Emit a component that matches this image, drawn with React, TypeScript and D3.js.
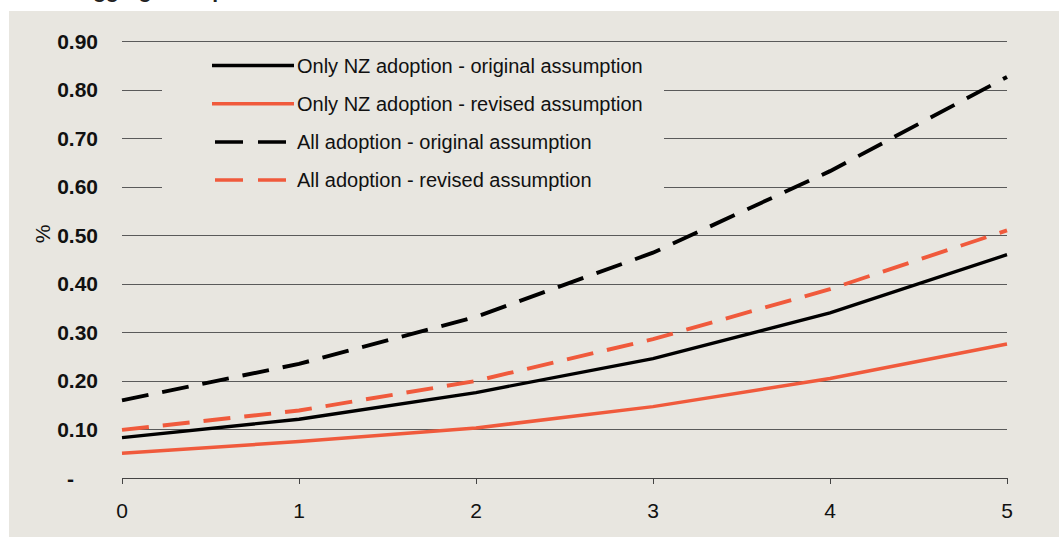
import React from "react";
import * as d3 from "d3";

const years = [0, 1, 2, 3, 4, 5];
const nzOriginal = [0.083, 0.121, 0.176, 0.246, 0.34, 0.46];
const nzRevised = [0.051, 0.075, 0.103, 0.147, 0.205, 0.276];
const allOriginal = [0.16, 0.235, 0.332, 0.464, 0.632, 0.826];
const allRevised = [0.099, 0.139, 0.2, 0.286, 0.389, 0.51];
const yTicks = [0, 0.1, 0.2, 0.3, 0.4, 0.5, 0.6, 0.7, 0.8, 0.9];

const seriesNames = [
  "Only NZ adoption - original assumption",
  "Only NZ adoption - revised assumption",
  "All adoption - original assumption",
  "All adoption - revised assumption",
];

const BG = "#e8e6e0";
const ORANGE = "#f05a3c";
const FONT = "Liberation Sans, Arial, sans-serif";

export default function App() {
  const width = 1059;
  const height = 537;

  const x = d3.scaleLinear().domain([0, 5]).range([122, 1007]);
  const y = d3.scaleLinear().domain([0, 0.9]).range([478, 41]);

  const line = d3
    .line<number>()
    .x((d, i) => x(years[i]))
    .y(d => y(d));

  const series = [
    { name: seriesNames[0], values: nzOriginal, color: "#000", dash: "", w: 3.3 },
    { name: seriesNames[1], values: nzRevised, color: ORANGE, dash: "", w: 3.5 },
    { name: seriesNames[2], values: allOriginal, color: "#000", dash: "27,14", w: 3.9 },
    { name: seriesNames[3], values: allRevised, color: ORANGE, dash: "27,14", w: 3.9 },
  ];

  return (
    <div style={{ position: "absolute", left: 0, top: 0 }}>
      <svg width={width} height={height} style={{ display: "block" }}>
        <rect x={0} y={0} width={width} height={height} fill="#fff" />
        {/* title sits mostly above the frame, only its descenders show */}
        <text x={78} y={-2} fontFamily={FONT} fontSize={21} fontWeight="bold" fill="#222">
          Aggregate impact
        </text>
        <rect x={9} y={11} width={width - 9} height={height - 11} fill={BG} />

        {yTicks.slice(1).map(t => (
          <line
            key={t}
            x1={x(0)}
            x2={x(5)}
            y1={Math.round(y(t)) + 0.5}
            y2={Math.round(y(t)) + 0.5}
            stroke="#5a5a5a"
            strokeWidth={1}
          />
        ))}

        {/* x axis */}
        <line x1={x(0)} x2={x(5)} y1={478.5} y2={478.5} stroke="#444" strokeWidth={1} />
        {years.map(t => (
          <g key={t}>
            <line
              x1={Math.round(x(t)) + 0.5}
              x2={Math.round(x(t)) + 0.5}
              y1={478}
              y2={484}
              stroke="#444"
            />
            <text
              x={x(t)}
              y={518}
              textAnchor="middle"
              fontFamily={FONT}
              fontSize={21}
              fill="#111"
            >
              {t}
            </text>
          </g>
        ))}

        {yTicks.map(t => (
          <text
            key={t}
            x={t === 0 ? 74 : 98}
            y={y(t) + 7.5}
            textAnchor="end"
            fontFamily={FONT}
            fontSize={21}
            fontWeight="bold"
            fill="#111"
          >
            {t === 0 ? "-" : t.toFixed(2)}
          </text>
        ))}

        <text
          transform="translate(50,234) rotate(-90)"
          textAnchor="middle"
          fontFamily={FONT}
          fontSize={21}
          fill="#111"
        >
          %
        </text>

        {/* legend box hides grid lines */}
        <rect x={162} y={47} width={502} height={158} fill={BG} />
        {series.map((s, i) => {
          const ly = 65.5 + i * 38.2;
          return (
            <g key={s.name}>
              <line
                x1={s.dash ? 215 : 212}
                x2={s.dash ? 286 : 294}
                y1={ly}
                y2={ly}
                stroke={s.color}
                strokeWidth={3.5}
                strokeDasharray={s.dash ? "28,15" : undefined}
              />
              <text x={297} y={ly + 7} fontFamily={FONT} fontSize={20} fill="#111">
                {s.name}
              </text>
            </g>
          );
        })}

        {series.map(s => (
          <path
            key={s.name}
            d={line(s.values) || ""}
            fill="none"
            stroke={s.color}
            strokeWidth={s.w}
            strokeDasharray={s.dash || undefined}
          />
        ))}
      </svg>
    </div>
  );
}
